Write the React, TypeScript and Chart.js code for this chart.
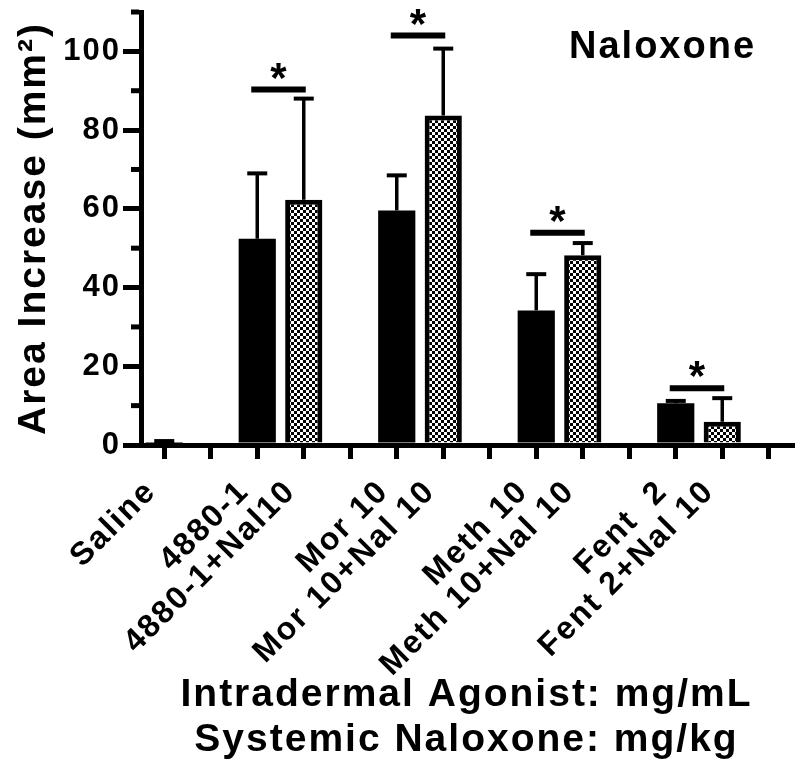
import { useEffect, useRef } from 'react';
import { Chart, registerables } from 'chart.js';

Chart.register(...registerables);

const FONT = "'Liberation Sans', Arial, Helvetica, sans-serif";

const categories = [
  'Saline', '', '4880-1', '4880-1+Nal10', '', 'Mor 10', 'Mor 10+Nal 10', '',
  'Meth 10', 'Meth 10+Nal 10', '', 'Fent  2', 'Fent 2+Nal 10', '',
];
const means = [0.3, null, 52.4, 62.3, null, 59.6, 83.7, null, 34.2, 48.2, null, 10.6, 5.9, null];
const sems = [0.7, null, 16.6, 25.7, null, 8.9, 17.0, null, 9.2, 3.1, null, 0.6, 6.0, null];
const withNaloxone = [false, false, false, true, false, false, true, false, false, true, false, false, true, false];

const sigFrom = [2, 5, 8, 11];
const sigTo = [3, 6, 9, 12];
const sigLevel = [90.3, 104.0, 53.9, 14.4];

const yMajorLabels = [0, 20, 40, 60, 80, 100];
const yMinorTicks = [10, 30, 50, 70, 90, 110];

export default function App() {
  const ref = useRef<HTMLCanvasElement>(null);

  useEffect(() => {
    document.body.style.margin = '0';
    const canvas = ref.current!;
    const ctx = canvas.getContext('2d')!;

    const pc = document.createElement('canvas');
    pc.width = 6;
    pc.height = 6;
    const p = pc.getContext('2d')!;
    p.fillStyle = '#000';
    p.fillRect(0, 0, 6, 6);
    p.fillStyle = '#fff';
    p.fillRect(0, 0, 3, 3);
    p.fillRect(3, 3, 3, 3);
    const pattern = ctx.createPattern(pc, 'repeat')!;

    const overlay = {
      id: 'overlay',
      beforeDraw(chart: any) {
        chart.ctx.letterSpacing = '2px';
      },
      afterDatasetsDraw(chart: any) {
        const c = chart.ctx;
        const meta = chart.getDatasetMeta(0);
        const ys = chart.scales.y;
        c.save();
        c.strokeStyle = '#000';
        c.lineCap = 'butt';
        meta.data.forEach((bar: any, i: number) => {
          const m = means[i];
          const s = sems[i];
          if (m == null || s == null) return;
          const yBar = ys.getPixelForValue(m);
          const yTop = ys.getPixelForValue(m + s);
          c.lineWidth = 3.5;
          c.beginPath();
          c.moveTo(bar.x, yBar);
          c.lineTo(bar.x, yTop);
          c.stroke();
          c.lineWidth = 4;
          c.beginPath();
          c.moveTo(bar.x - 10, yTop);
          c.lineTo(bar.x + 10, yTop);
          c.stroke();
        });
        c.letterSpacing = '0px';
        c.fillStyle = '#000';
        c.font = `bold 42px ${FONT}`;
        c.textAlign = 'center';
        c.textBaseline = 'alphabetic';
        sigFrom.forEach((from, k) => {
          const x1 = meta.data[from].x - 6;
          const x2 = meta.data[sigTo[k]].x + 2;
          const y = ys.getPixelForValue(sigLevel[k]);
          c.lineWidth = 6;
          c.beginPath();
          c.moveTo(x1, y);
          c.lineTo(x2, y);
          c.stroke();
          c.fillText('*', (x1 + x2) / 2, y + 2);
        });
        c.restore();
      },
      afterDraw(chart: any) {
        const c = chart.ctx;
        const ys = chart.scales.y;
        c.save();
        c.strokeStyle = '#000';
        c.lineWidth = 5;
        c.lineCap = 'butt';
        yMinorTicks.forEach((v) => {
          const y = ys.getPixelForValue(v);
          c.beginPath();
          c.moveTo(ys.right - 10, y);
          c.lineTo(ys.right - 2, y);
          c.stroke();
        });
        c.letterSpacing = '2px';
        c.fillStyle = '#000';
        c.font = `bold 38px ${FONT}`;
        c.textAlign = 'left';
        c.textBaseline = 'alphabetic';
        c.fillText('Naloxone', 569, 58);
        c.restore();
      },
    };

    const chart = new Chart(canvas, {
      type: 'bar',
      data: {
        labels: categories,
        datasets: [
          {
            data: means as any,
            backgroundColor: withNaloxone.map((n) => (n ? pattern : '#000')) as any,
            borderColor: '#000',
            borderWidth: withNaloxone.map((n) => (n ? 5 : 0)) as any,
            borderSkipped: 'start',
            barPercentage: 0.8,
            categoryPercentage: 1,
          },
        ],
      },
      plugins: [overlay],
      options: {
        responsive: false,
        animation: false,
        devicePixelRatio: 1,
        layout: { padding: { top: 12, right: 8, left: 0, bottom: 0 } },
        plugins: { legend: { display: false }, tooltip: { enabled: false } },
        scales: {
          x: {
            offset: true,
            afterFit: (scale: any) => {
              scale.height = 330;
              scale.paddingLeft = 0;
              scale.paddingRight = 0;
              scale.paddingTop = 0;
              scale.paddingBottom = 0;
            },
            grid: {
              offset: false,
              drawOnChartArea: false,
              drawTicks: true,
              tickLength: 14,
              tickWidth: 5,
              tickColor: '#000',
              color: '#000',
              lineWidth: 5,
            },
            border: { display: true, color: '#000', width: 5 },
            ticks: {
              autoSkip: false,
              maxRotation: 45,
              minRotation: 45,
              padding: 14,
              labelOffset: -13,
              color: '#000',
              font: { family: FONT, size: 32, weight: 'bold' },
            },
            title: {
              display: true,
              text: ['Intradermal Agonist: mg/mL', 'Systemic Naloxone: mg/kg'],
              color: '#000',
              font: { family: FONT, size: 39, weight: 'bold', lineHeight: '45px' as any },
              padding: { top: 0, bottom: 12.5 },
            },
          },
          y: {
            min: 0,
            max: 110,
            afterFit: (scale: any) => {
              scale.width = 141;
              scale.paddingLeft = 0;
              scale.paddingRight = 0;
              scale.paddingTop = 0;
              scale.paddingBottom = 0;
            },
            grid: {
              drawOnChartArea: false,
              drawTicks: true,
              tickLength: 18,
              tickWidth: 5,
              tickColor: '#000',
              color: '#000',
              lineWidth: 5,
            },
            border: { display: true, color: '#000', width: 5 },
            ticks: {
              stepSize: 10,
              padding: 2,
              color: '#000',
              font: { family: FONT, size: 31, weight: 'bold' },
              callback: (v: any) => (yMajorLabels.includes(Number(v)) ? String(v) : null),
            },
            title: {
              display: true,
              text: 'Area Increase (mm²)',
              color: '#000',
              font: { family: FONT, size: 39, weight: 'bold' },
              padding: { top: 11, bottom: 0 },
            },
          },
        },
      },
    });

    return () => chart.destroy();
  }, []);

  return (
    <canvas
      ref={ref}
      width={800}
      height={775}
      style={{ display: 'block', width: '800px', height: '775px' }}
    />
  );
}
